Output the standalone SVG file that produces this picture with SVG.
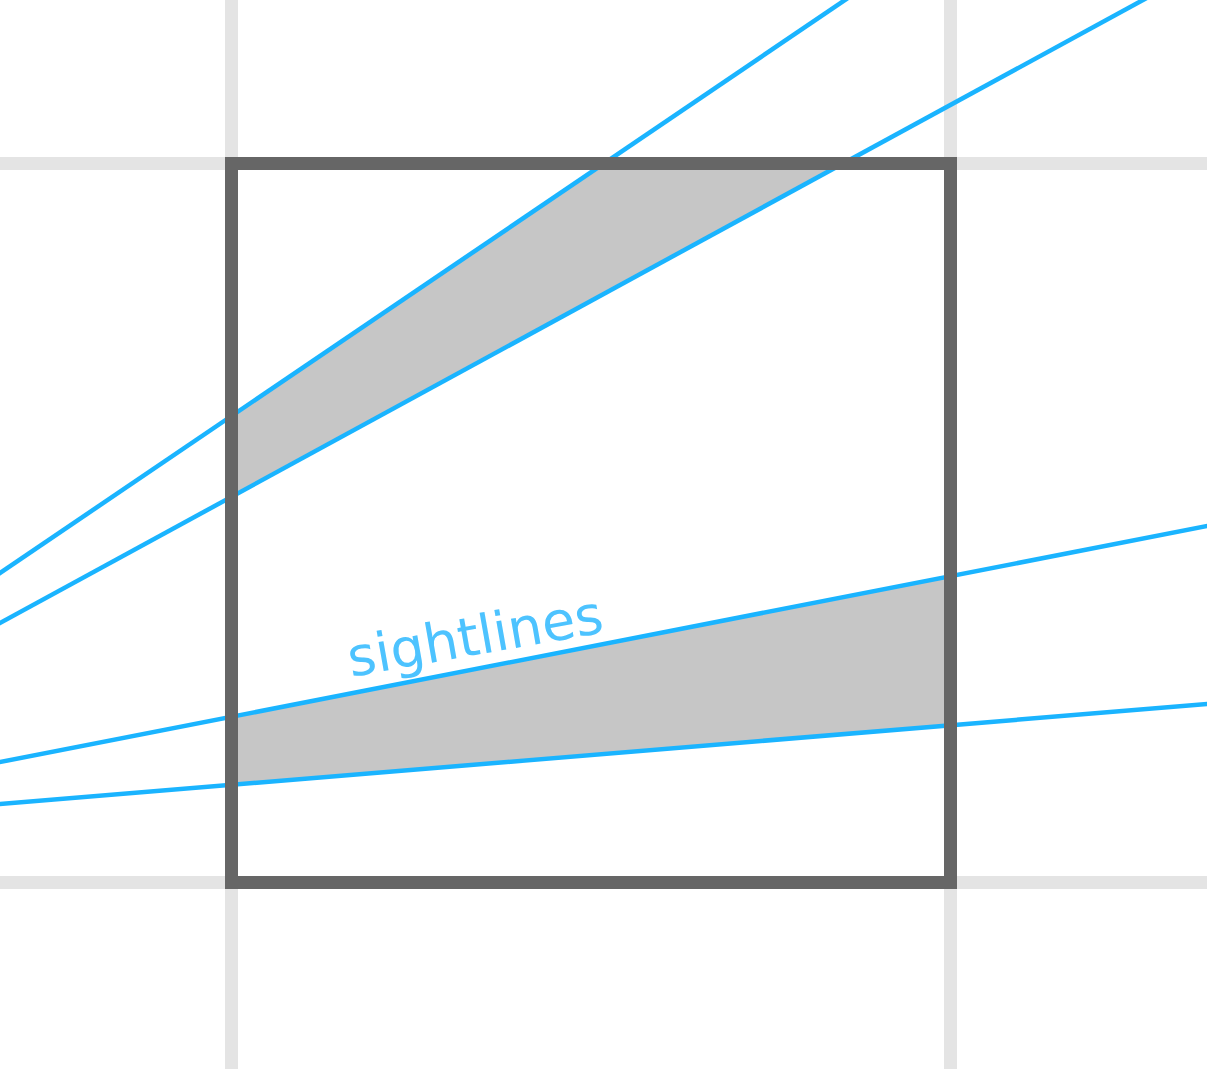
<svg xmlns="http://www.w3.org/2000/svg" width="1207" height="1069" viewBox="0 0 1207 1069">
<style>
.grid{stroke:#e4e4e4;stroke-width:13;fill:none}
.fill{fill:#c6c6c6;stroke:none}
.sight{stroke:#1ab4ff;stroke-width:4.5;fill:none}
.frame{stroke:#666666;stroke-width:13;fill:none}
.label{font-family:"DejaVu Sans",sans-serif;font-size:54px;fill:#4dc3ff}
</style>
<defs>
<clipPath id="sq"><rect x="231.5" y="163.5" width="719" height="719"/></clipPath>
</defs>
<rect width="1207" height="1069" fill="#ffffff"/>
<g id="grid">
<line class="grid" x1="231.5" y1="0" x2="231.5" y2="1069"/>
<line class="grid" x1="950.5" y1="0" x2="950.5" y2="1069"/>
<line class="grid" x1="0" y1="163.5" x2="1207" y2="163.5"/>
<line class="grid" x1="0" y1="882.5" x2="1207" y2="882.5"/>
</g>
<g id="shadows" clip-path="url(#sq)">
<polygon class="fill" points="0,573 845,0 1143,0 0,623"/>
<polygon class="fill" points="0,762 1207,526 1207,704 0,804"/>
</g>
<g id="connectors">
<line class="sight" x1="-14.75" y1="583" x2="859.75" y2="-10"/>
<line class="sight" x1="-18.35" y1="633" x2="1161.35" y2="-10"/>
<line class="sight" x1="-10" y1="763.96" x2="1217" y2="524.04"/>
<line class="sight" x1="-10" y1="804.83" x2="1217" y2="703.17"/>
</g>
<g id="square">
<rect class="frame" x="231.5" y="163.5" width="719" height="719"/>
</g>
<g id="label">
<text class="label" transform="translate(351,677) rotate(-10)">sightlines</text>
</g>
</svg>
